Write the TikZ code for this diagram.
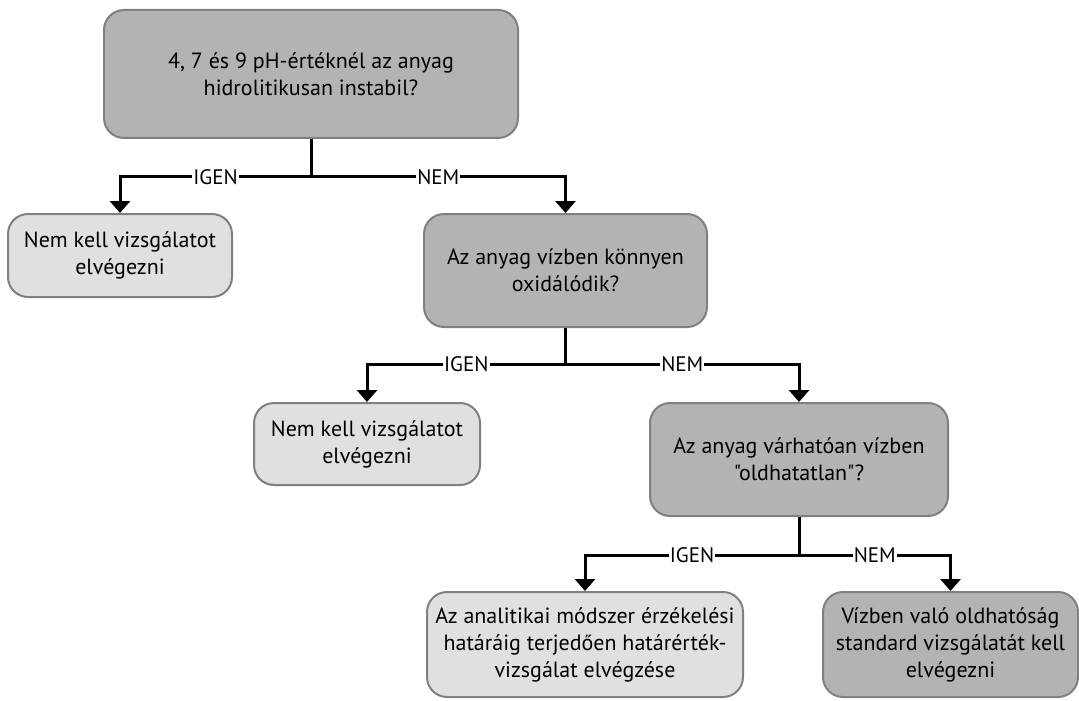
\documentclass[tikz,border=0pt]{standalone}
\usepackage{fontspec}
\setmainfont{PT Sans}[Ligatures=TeXOff]
\usetikzlibrary{arrows.meta}
\definecolor{boxdark}{HTML}{B3B3B3}
\definecolor{boxlight}{HTML}{E0E0E0}
\definecolor{boxline}{HTML}{808080}
\begin{document}
\begin{tikzpicture}[x=0.5pt,y=-0.5pt,
  box/.style={draw=boxline,line width=1pt,rounded corners=10pt,align=center,
    font=\fontsize{11}{13.5}\selectfont,inner sep=0pt},
  ask/.style={box,fill=boxdark},
  stop/.style={box,fill=boxlight},
  wire/.style={line width=1.5pt},
  flow/.style={wire,-{Triangle[width=10pt,length=6pt]}},
  lbl/.style={fill=white,inner sep=0.6pt,font=\fontsize{10.5}{12}\selectfont}]
  \useasboundingbox (0,0) rectangle (1079,700);
  \node[ask,minimum width=207pt,minimum height=64pt] (Q1) at (311,74) {4, 7 és 9 pH-értéknél az anyag\\hidrolitikusan instabil?};
  \node[stop,minimum width=112pt,minimum height=41.5pt] (N1) at (120,255.5) {Nem kell vizsgálatot\\elvégezni};
  \node[ask,minimum width=141.5pt,minimum height=56.5pt] (Q2) at (565.5,270.5) {Az anyag vízben könnyen\\oxidálódik?};
  \node[stop,minimum width=113pt,minimum height=41pt] (N2) at (367,444) {Nem kell vizsgálatot\\elvégezni};
  \node[ask,minimum width=149pt,minimum height=56.5pt] (Q3) at (799,459.5) {Az anyag várhatóan vízben\\"oldhatatlan"?};
  \node[stop,minimum width=158pt,minimum height=52.5pt] (V1) at (585,644.5) {Az analitikai módszer érzékelési\\határáig terjedően határérték-\\vizsgálat elvégzése};
  \node[ask,minimum width=127.5pt,minimum height=52.5pt] (V2) at (950.5,644.5) {Vízben való oldhatóság\\standard vizsgálatát kell\\elvégezni};
  \coordinate (J1) at (311,177);
  \coordinate (J2) at (565.5,364);
  \coordinate (J3) at (799,555);
  % first question
  \draw[wire] (Q1) -- (J1);
  \draw[flow] (J1) -- node[lbl]{IGEN} (J1 -| N1) -- (N1);
  \draw[flow] (J1) -- node[lbl]{NEM} (J1 -| Q2) -- (Q2);
  % second question
  \draw[wire] (Q2) -- (J2);
  \draw[flow] (J2) -- node[lbl]{IGEN} (J2 -| N2) -- (N2);
  \draw[flow] (J2) -- node[lbl]{NEM} (J2 -| Q3) -- (Q3);
  % third question
  \draw[wire] (Q3) -- (J3);
  \draw[flow] (J3) -- node[lbl]{IGEN} (J3 -| V1) -- (V1);
  \draw[flow] (J3) -- node[lbl]{NEM} (J3 -| V2) -- (V2);
\end{tikzpicture}
\end{document}
